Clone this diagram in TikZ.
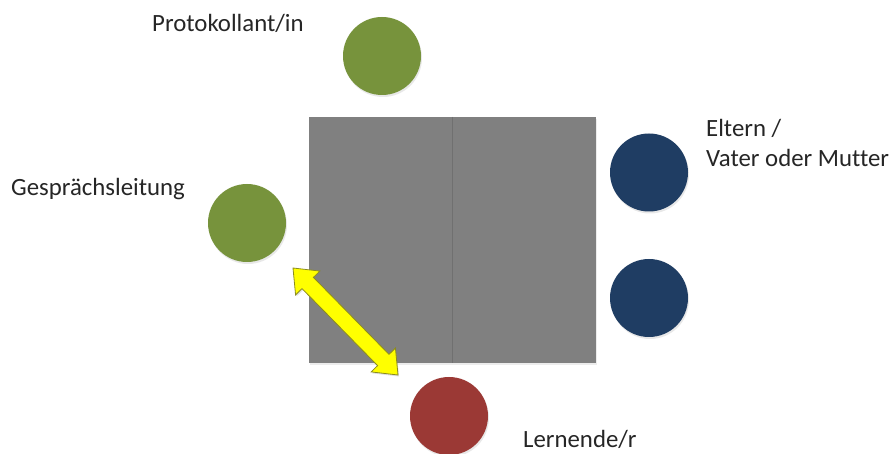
\documentclass[tikz,border=0pt]{standalone}
\usepackage{fontspec}
\setmainfont[Ligatures={NoCommon}]{Carlito}
\usetikzlibrary{calc,shadows}
\definecolor{pgreen}{HTML}{77933C}
\definecolor{pblue}{HTML}{1F3D63}
\definecolor{pred}{HTML}{9B3935}
\definecolor{pgray}{HTML}{808080}
\definecolor{pline}{HTML}{707070}
\definecolor{pyellow}{HTML}{FFFF00}
\definecolor{polive}{HTML}{8C8C1E}
\definecolor{ptext}{HTML}{262626}
\tikzset{
  person/.style={circle, minimum size=78pt, inner sep=0pt, draw=none,
    drop shadow={opacity=0.18, shadow xshift=1pt, shadow yshift=-2pt}},
  half/.style={rectangle, fill=pgray, draw=none, minimum height=246pt, inner sep=0pt,
    drop shadow={opacity=0.15, shadow xshift=1pt, shadow yshift=-2pt}},
  lbl/.style={anchor=base west, inner sep=0pt, text=ptext, font=\fontsize{24.8}{29.5}\selectfont, align=left},
}
\begin{document}
\begin{tikzpicture}[x=1pt,y=1pt]
\useasboundingbox (0,0) rectangle (894,454);
\fill[white] (0,0) rectangle (894,454);
% table
\node[half, minimum width=143pt] (tl) at (380.5,214) {};
\node[half, minimum width=144pt] (tr) at (524,214) {};
\draw[pline, line width=0.8pt] (tl.north east) -- (tl.south east);
% persons
\node[person, fill=pgreen] (prot) at (382,398) {};
\node[person, fill=pgreen] (lead) at (247,231) {};
\node[person, fill=pblue] (par1) at (649,281.5) {};
\node[person, fill=pblue] (par2) at (649,156) {};
\node[person, fill=pred] (learn) at (449,38) {};
% labels
\node[lbl] (tprot) at (152,422) {Protokollant/in};
\node[lbl] (tlead) at (11,258) {Gesprächsleitung};
\node[lbl] (tpar) at (706,287.5) {Eltern /\\Vater oder Mutter};
\node[lbl] (tlearn) at (523,6) {Lernende/r};
% double arrow
\coordinate (A) at (293,186);
\coordinate (B) at (398,79);
\def\hh{21pt}\def\HH{17pt}\def\ww{8pt}
\filldraw[fill=pyellow, draw=polive, line width=0.8pt, line join=miter,
  drop shadow={opacity=0.25, shadow xshift=1pt, shadow yshift=-1.5pt}]
  (A)
  -- ($(A)!\hh!(B)!\HH!90:(B)$)
  -- ($(A)!\hh!(B)!\ww!90:(B)$)
  -- ($(B)!\hh!(A)!\ww!-90:(A)$)
  -- ($(B)!\hh!(A)!\HH!-90:(A)$)
  -- (B)
  -- ($(B)!\hh!(A)!\HH!90:(A)$)
  -- ($(B)!\hh!(A)!\ww!90:(A)$)
  -- ($(A)!\hh!(B)!\ww!-90:(B)$)
  -- ($(A)!\hh!(B)!\HH!-90:(B)$)
  -- cycle;
\end{tikzpicture}
\end{document}
